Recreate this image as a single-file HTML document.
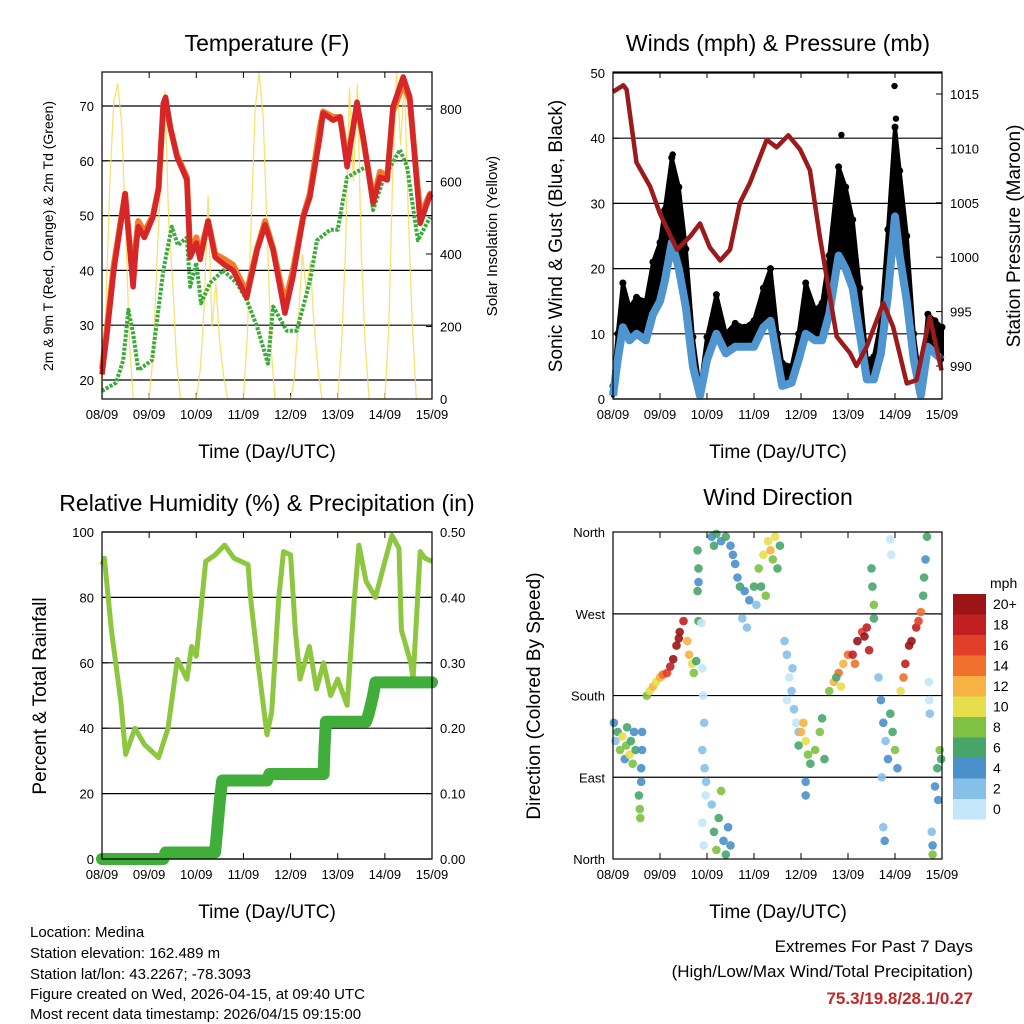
<!DOCTYPE html>
<html><head><meta charset="utf-8"><style>
body{margin:0;background:#fff}
svg{display:block;font-family:"Liberation Sans",sans-serif}
</style></head><body>
<svg id="s" width="1024" height="1024" viewBox="0 0 1024 1024" xmlns="http://www.w3.org/2000/svg">
<rect width="1024" height="1024" fill="#fff"/>
<g id="p1"></g>
<g id="p2"></g>
<g id="p3"></g>
<g id="p4"></g>
<text x="267" y="51" font-size="23" text-anchor="middle">Temperature (F)</text>
<text x="778" y="51" font-size="23" text-anchor="middle">Winds (mph) &amp; Pressure (mb)</text>
<text x="267" y="511" font-size="23" text-anchor="middle">Relative Humidity (%) &amp; Precipitation (in)</text>
<text x="778" y="505" font-size="23" text-anchor="middle">Wind Direction</text>
<text x="267" y="458" font-size="19" text-anchor="middle">Time (Day/UTC)</text>
<text x="778" y="458" font-size="19" text-anchor="middle">Time (Day/UTC)</text>
<text x="267" y="918" font-size="19" text-anchor="middle">Time (Day/UTC)</text>
<text x="778" y="918" font-size="19" text-anchor="middle">Time (Day/UTC)</text>
<text transform="translate(53,236) rotate(-90)" font-size="14" text-anchor="middle">2m &amp; 9m T (Red, Orange) &amp; 2m Td (Green)</text>
<text transform="translate(497,236) rotate(-90)" font-size="15" text-anchor="middle">Solar Insolation (Yellow)</text>
<text transform="translate(562,236) rotate(-90)" font-size="19" text-anchor="middle">Sonic Wind &amp; Gust (Blue, Black)</text>
<text transform="translate(1020,236) rotate(-90)" font-size="19" text-anchor="middle">Station Pressure (Maroon)</text>
<text transform="translate(46,696) rotate(-90)" font-size="19" text-anchor="middle">Percent &amp; Total Rainfall</text>
<text transform="translate(540,696) rotate(-90)" font-size="19" text-anchor="middle">Direction (Colored By Speed)</text>
<g font-size="15">
<text x="30" y="937">Location: Medina</text>
<text x="30" y="958">Station elevation: 162.489 m</text>
<text x="30" y="979">Station lat/lon: 43.2267; -78.3093</text>
<text x="30" y="999">Figure created on Wed, 2026-04-15, at 09:40 UTC</text>
<text x="30" y="1019">Most recent data timestamp: 2026/04/15 09:15:00</text>
</g>
<g font-size="17" text-anchor="end">
<text x="973" y="952">Extremes For Past 7 Days</text>
<text x="973" y="977">(High/Low/Max Wind/Total Precipitation)</text>
<text x="973" y="1004" fill="#c42828" font-weight="bold">75.3/19.8/28.1/0.27</text>
</g>
</svg>
<script>
const dayLabels=["08/09","09/09","10/09","11/09","12/09","13/09","14/09","15/09"];
const tDays=[0,0.1,0.25,0.49,0.66,0.72,0.77,0.9,1.08,1.2,1.3,1.35,1.45,1.59,1.8,1.87,2.0,2.08,2.25,2.4,2.6,2.78,3.07,3.29,3.46,3.63,3.88,4.05,4.27,4.41,4.62,4.69,4.9,5.05,5.2,5.41,5.54,5.75,5.9,6.05,6.17,6.39,6.53,6.75,6.96,7.0];
const tVals=[21,28,40,54,37,44,48,46,49.7,55,70.5,71.6,66,60.7,56.5,42.4,45,42,49,42.4,41,40,35,43.7,48.3,43.7,32.2,38.8,49.7,53.4,64.3,68.7,67.4,68,58.9,70.7,64.3,52.3,57,56.5,69.8,75.3,71.6,48.6,53.8,54];
const t9Vals=[22,29,41,54,38,45,49,47,50,55,70,71,66,61,57,43,46,43,49,43,42,41,36,44,49,44,34,40,50,54,66,69,68,68,60,70,64,53,58,57,69,74,71,50,54,54];
const tdDays=[0,0.3,0.45,0.56,0.66,0.77,1.06,1.3,1.48,1.61,1.8,1.87,2.0,2.1,2.29,2.57,2.86,3.07,3.29,3.52,3.63,3.92,4.13,4.41,4.56,4.84,5.0,5.2,5.62,5.75,5.96,6.32,6.47,6.7,6.96];
const tdVals=[18,19.5,23.6,32.8,28.5,21.8,23.6,40,48,44.6,46,37,41.4,34,37.7,40,37.7,34.6,29.7,23,33.4,29,29,38,45.5,47.4,47.4,57,59,51,56.5,62,59,45.5,49.7];
const solarHours=[0,2,4,6,8,10,12,14,16,18,20,22,24,26,28,30,32,34,36,38,40,42,44,46,48,50,52,54,56,58,60,62,64,66,68,70,72,74,76,78,80,82,84,86,88,90,92,94,96,98,100,102,104,106,108,110,112,114,116,118,120,122,124,126,128,130,132,134,136,138,140,142,144,146,148,150,152,154,156,158,160,162,164,166,168];
const solarVals=[20,250,600,820,870,760,480,150,0,0,0,0,0,120,380,620,850,480,320,100,0,0,0,0,0,80,250,560,200,320,150,60,0,0,0,0,0,180,500,800,900,780,480,150,0,0,0,0,0,60,220,400,300,380,200,80,0,0,0,0,0,150,420,860,600,870,400,150,0,0,0,0,0,200,620,900,700,880,500,200,0,0,0,0,0];
const tempTicks=[20,30,40,50,60,70];
const solarTicks=[0,200,400,600,800];
const wDays=[0,0.1,0.21,0.35,0.5,0.7,0.85,1.0,1.1,1.25,1.4,1.55,1.7,1.85,2.0,2.2,2.4,2.6,2.8,3.0,3.2,3.35,3.5,3.6,3.8,3.95,4.1,4.3,4.45,4.6,4.8,4.95,5.1,5.25,5.4,5.55,5.7,5.85,6.0,6.1,6.25,6.4,6.55,6.7,6.85,7.0];
const gustVals=[2,10,17.8,14,15.6,15,21,24,29,37,32.5,23,9.5,1.4,9.5,16,10,11.6,11,12,17,20,10,5.5,5,10,17.8,13.7,14.7,22,35.6,32.5,27.5,17,6,6.5,12,26,41.7,35,25,10,2,13,12,11];
const meanVals=[0.5,6,11,9,10,9,13,15,18,24,20,14,5,0.5,6,10,7,8,8,8,11,12,6,2,2.5,6,10,9,9,13,22,20,17,10,3,3,7,16,28,22,15,6,0.5,8,7,6];
const gustOutDays=[1.27,4.86,5.99,6.02];
const gustOutVals=[37.5,40.5,48,43];
const pDays=[0,0.22,0.29,0.5,0.79,1.0,1.36,1.64,1.85,2.06,2.28,2.49,2.7,2.91,3.27,3.48,3.73,3.98,4.19,4.4,4.76,5.04,5.18,5.4,5.75,5.96,6.25,6.46,6.74,6.99];
const pVals=[1015.2,1015.8,1015.4,1008.7,1006.5,1004,1000.7,1001.9,1003.1,1000.9,999.7,1000.7,1005,1006.8,1010.8,1010.1,1011.2,1009.9,1008,1001.9,992.7,991.2,990,991.8,995.8,993.6,988.4,988.7,994.5,989.6];
const windTicks=[0,10,20,30,40,50];
const presTicks=[990,995,1000,1005,1010,1015];
const rhDays=[0,0.05,0.2,0.4,0.5,0.7,0.9,1.2,1.4,1.6,1.8,1.9,2.0,2.2,2.4,2.6,2.8,3.1,3.15,3.3,3.5,3.6,3.75,3.85,4.0,4.1,4.2,4.4,4.55,4.7,4.85,5.0,5.2,5.35,5.45,5.6,5.8,6.0,6.15,6.3,6.35,6.55,6.6,6.75,6.85,7.0];
const rhVals=[90,92,70,48,32,40,35,31,40,61,55,65,62,91,93,96,92,90,80,61,38,45,80,94,93,70,55,65,52,60,50,55,47,79,96,85,80,91,99,95,70,60,55,94,92,91];
const pcDays=[0,1.3,1.35,2.4,2.45,2.5,2.55,3.5,3.55,4.7,4.72,4.75,5.6,5.65,5.75,5.8,7];
const pcVals=[0,0,0.01,0.01,0.05,0.09,0.12,0.12,0.13,0.13,0.17,0.21,0.21,0.22,0.25,0.27,0.27];
const rhTicks=[0,20,40,60,80,100];
const pcTicks=[0,0.1,0.2,0.3,0.4,0.5];
const dirDays=[0.02,0.05,0.1,0.15,0.2,0.25,0.28,0.3,0.35,0.38,0.42,0.45,0.48,0.55,0.57,0.58,0.6,0.62,0.62,0.6,0.72,0.78,0.85,0.92,1.0,1.06,1.15,1.22,1.28,1.35,1.42,1.5,1.4,1.58,1.62,1.68,1.72,1.77,1.8,1.82,1.8,1.82,1.82,1.88,1.9,1.92,1.94,1.9,1.95,1.97,1.9,1.93,1.98,2.1,2.15,2.2,2.3,2.4,2.5,2.55,2.6,2.1,2.15,2.2,2.25,2.3,2.35,2.4,2.45,2.5,2.65,2.7,2.8,2.9,3.0,2.75,2.85,3.05,3.1,3.15,3.2,3.3,3.35,3.4,3.45,3.5,3.25,3.55,3.65,3.7,3.75,3.8,3.85,3.9,3.95,3.7,3.82,3.95,4.0,4.05,4.1,4.15,4.2,4.3,4.4,4.45,4.5,4.1,4.1,4.6,4.7,4.8,4.9,5.0,4.85,4.75,5.1,5.2,5.3,5.4,5.45,5.15,5.35,5.5,5.52,5.55,5.55,5.65,5.7,5.75,5.8,5.85,5.9,5.95,6.0,6.05,5.72,5.75,5.78,5.9,5.92,6.12,6.18,6.22,6.3,6.35,6.45,6.5,6.55,6.6,6.62,6.65,6.68,6.72,6.73,6.74,6.78,6.8,6.8,6.85,6.9,6.95,6.98,6.92];
const dirDeg=[150,130,140,120,135,110,125,145,115,130,105,140,120,70,55,45,100,120,140,85,180,185,190,195,200,203,205,212,220,235,250,262,243,240,225,215,205,218,340,320,295,262,305,260,210,180,150,120,100,70,40,15,85,355,345,358,350,355,345,335,325,60,30,10,45,75,20,5,35,15,310,300,295,285,300,265,255,280,320,300,335,350,340,330,355,320,290,345,240,225,200,185,165,150,140,175,210,125,140,150,130,115,105,120,140,155,110,85,70,185,195,205,215,225,190,200,225,240,250,255,230,215,245,320,300,280,265,200,175,150,130,110,160,140,120,100,90,35,20,352,335,185,200,215,235,240,255,262,272,290,310,330,355,195,175,160,30,15,5,80,100,120,110,65];
const dirSpd=[4,2,6,8,10,4,8,6,10,6,8,4,6,6,8,8,4,4,4,4,8,10,12,10,12,14,16,18,20,20,20,18,20,12,12,10,8,6,6,6,6,6,4,0,0,0,2,2,2,0,0,0,2,4,6,6,4,6,4,4,4,2,6,8,6,8,4,6,4,4,4,6,4,4,6,2,2,2,8,6,10,10,12,8,10,6,8,6,2,2,0,2,2,0,2,0,2,6,12,12,10,8,6,8,8,6,6,4,4,8,12,14,12,14,10,6,18,20,16,18,18,14,20,6,6,8,6,2,4,4,2,4,6,6,8,4,2,2,4,0,0,10,14,18,20,20,18,16,14,6,6,4,6,0,0,2,2,4,8,4,6,8,6,4];
const dirTicks=[0,90,180,270,360];
const dirLabels=["North","East","South","West","North"];
const speedBins=["0","2","4","6","8","10","12","14","16","18","20+"];
const speedColors=["#c3e6f8","#86c0e8","#4b8fcb","#47a56a","#7ec143","#e5df4d","#f7b243","#f0702c","#e13f2a","#c21f22","#9b1517"];

const NS="http://www.w3.org/2000/svg";
function mk(parent,tag,attrs,text){const e=document.createElementNS(NS,tag);for(const k in attrs)e.setAttribute(k,attrs[k]);if(text!==undefined)e.textContent=text;parent.appendChild(e);return e;}
function panel(g,x0,x1,yt,yb){
  const xs=d=>x0+d*(x1-x0)/7;
  for(let i=0;i<8;i++){
    const x=xs(i);
    let l=mk(g,'line',{x1:x,x2:x,y1:yb,y2:yb-6,stroke:'#000','stroke-width':1});
    
    l=mk(g,'line',{x1:x,x2:x,y1:yt,y2:yt+6,stroke:'#000','stroke-width':1});
    
    const t=mk(g,'text',{x:x,y:yb+20,'font-size':13,'text-anchor':'middle'},dayLabels[i]);
    
  }
  return xs;
}
function frame(g,x0,x1,yt,yb){const r=mk(g,'rect',{x:x0,y:yt,width:x1-x0,height:yb-yt,fill:'none',stroke:'#000','stroke-width':1.2});
}
function yTicks(g,ticks,ys,x0,x1,side,fmt,grid){
  ticks.forEach(v=>{const y=ys(v);
    if(grid){const l=mk(g,'line',{x1:x0,x2:x1,y1:y,y2:y,stroke:'#000','stroke-width':1.2});
      }
    const xe=side==='l'?x0:x1;
    const tk=mk(g,'line',{x1:xe,x2:side==='l'?xe+6:xe-6,y1:y,y2:y,stroke:'#000'});
    
    const t=mk(g,'text',{x:side==='l'?x0-8:x1+8,y:y+5,'font-size':13,'text-anchor':side==='l'?'end':'start'},fmt(v));
    });
}
function pts(days,vals,xs,ys){return days.map((d,i)=>xs(d).toFixed(1)+','+ys(vals[i]).toFixed(1)).join(' ');}

(function(){
const g=document.getElementById('p1');const x0=102,x1=432,yt=72,yb=399;
const xs=panel(g,x0,x1,yt,yb);
const yT=v=>380-(v-20)*5.48, yS=v=>399-v*0.3625;
yTicks(g,tempTicks,yT,x0,x1,'l',v=>v,true);
yTicks(g,solarTicks,yS,x0,x1,'r',v=>v,false);
const xh=h=>xs(h/24);
let e=mk(g,'polyline',{points:solarHours.map((h,i)=>xh(h).toFixed(1)+','+yS(solarVals[i]).toFixed(1)).join(' '),fill:'none',stroke:'#f7dc5a','stroke-width':1.3,'stroke-opacity':0.85});

e=mk(g,'polyline',{points:pts(tdDays,tdVals,xs,yT),fill:'none',stroke:'#3aab3a','stroke-width':4,'stroke-dasharray':'3 1.5','stroke-linejoin':'round'});

e=mk(g,'polyline',{points:pts(tDays,t9Vals,xs,yT),fill:'none',stroke:'#f27b2a','stroke-width':6,'stroke-linejoin':'round'});

e=mk(g,'polyline',{points:pts(tDays,tVals,xs,yT),fill:'none',stroke:'#d62627','stroke-width':5.5,'stroke-linejoin':'round'});

frame(g,x0,x1,yt,yb);
})();

(function(){
const g=document.getElementById('p2');const x0=613,x1=942,yt=72,yb=399;
const xs=panel(g,x0,x1,yt,yb);
const yW=v=>399-v*6.52, yP=p=>94+(1015-p)*10.88;
yTicks(g,windTicks,yW,x0,x1,'l',v=>v,true);
yTicks(g,presTicks,yP,x0,x1,'r',v=>v,false);
const up=wDays.map((d,i)=>xs(d).toFixed(1)+','+yW(gustVals[i]).toFixed(1));
const dn=wDays.map((d,i)=>xs(d).toFixed(1)+','+yW(meanVals[i]).toFixed(1)).reverse();
let e=mk(g,'polygon',{points:up.concat(dn).join(' '),fill:'#000',stroke:'#000','stroke-width':4,'stroke-linejoin':'round'});

wDays.forEach((d,i)=>{const c=mk(g,'circle',{cx:xs(d),cy:yW(gustVals[i]),r:3.5,fill:'#000'});
});
gustOutDays.forEach((d,i)=>{const c=mk(g,'circle',{cx:xs(d),cy:yW(gustOutVals[i]),r:3.2,fill:'#000'});
});
e=mk(g,'polyline',{points:pts(wDays,meanVals,xs,yW),fill:'none',stroke:'#4f95d0','stroke-width':8,'stroke-linejoin':'round'});

e=mk(g,'polyline',{points:pts(pDays,pVals,xs,yP),fill:'none',stroke:'#9b1a1c','stroke-width':4.5,'stroke-linejoin':'round'});

frame(g,x0,x1,yt,yb);
})();

(function(){
const g=document.getElementById('p3');const x0=102,x1=432,yt=532,yb=859;
const xs=panel(g,x0,x1,yt,yb);
const yR=v=>859-v*3.27, yC=v=>859-v*654;
yTicks(g,rhTicks,yR,x0,x1,'l',v=>v,true);
yTicks(g,pcTicks,yC,x0,x1,'r',v=>v.toFixed(2),false);
let e=mk(g,'polyline',{points:pts(rhDays,rhVals,xs,yR),fill:'none',stroke:'#8dc63f','stroke-width':5,'stroke-linejoin':'round'});

e=mk(g,'polyline',{points:pts(pcDays,pcVals,xs,yC),fill:'none',stroke:'#41ad3a','stroke-width':12,'stroke-linejoin':'round','stroke-linecap':'round'});

frame(g,x0,x1,yt,yb);
})();

(function(){
const g=document.getElementById('p4');const x0=613,x1=942,yt=532,yb=859;
const xs=panel(g,x0,x1,yt,yb);
const yD=v=>859-v*0.908;
dirTicks.forEach((v,i)=>{const y=yD(v);
  if(i>0&&i<4){const l=mk(g,'line',{x1:x0,x2:x1,y1:y,y2:y,stroke:'#000','stroke-width':1.2});
  }
  const t=mk(g,'text',{x:x0-8,y:y+5,'font-size':13,'text-anchor':'end'},dirLabels[i]);
  });
dirDays.forEach((d,i)=>{const b=Math.min(10,Math.floor(dirSpd[i]/2));
  const c=mk(g,'circle',{cx:xs(d).toFixed(1),cy:yD(dirDeg[i]).toFixed(1),r:4.3,fill:speedColors[b],'fill-opacity':0.9});
  });
frame(g,x0,x1,yt,yb);
const cb=mk(g,'g',{});
const t=mk(cb,'text',{x:990,y:588,'font-size':14},'mph');
for(let i=0;i<11;i++){const k=10-i;const y=594+i*20.5;
  const r=mk(cb,'rect',{x:953,y:y,width:33,height:20.5,fill:speedColors[k]});
  
  const tt=mk(cb,'text',{x:993,y:y+15,'font-size':14},speedBins[k]);
  }
})();
</script>
</body></html>
